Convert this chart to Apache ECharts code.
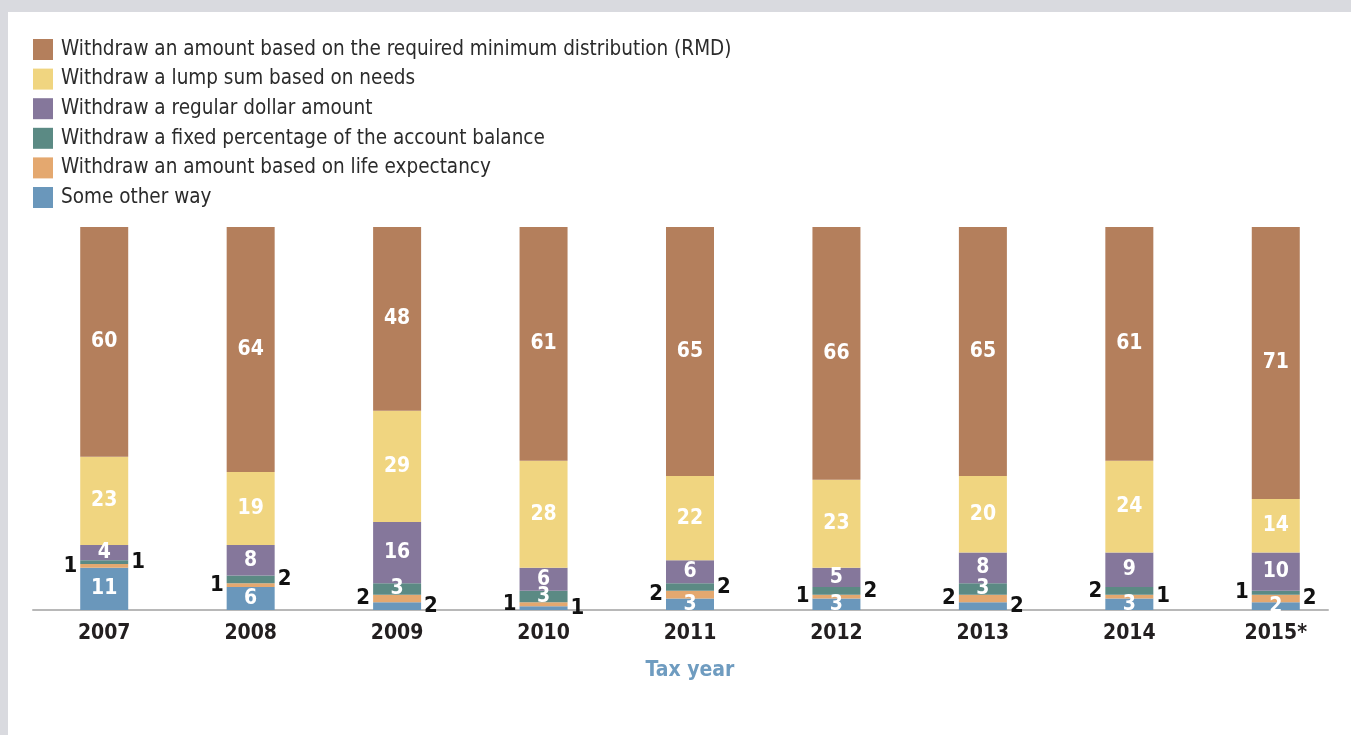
<!DOCTYPE html>
<html><head><meta charset="utf-8">
<script src="https://cdn.jsdelivr.net/npm/echarts@6/dist/echarts.min.js"></script>
<style>
html,body{margin:0;padding:0;background:#d9dadf;width:1351px;height:735px;overflow:hidden}
#panel{position:absolute;left:8px;top:12px;right:0;bottom:0;background:#fff}
#chart{position:absolute;left:0;top:0;width:1351px;height:735px}
</style></head><body>
<div id="panel"></div><div id="chart"></div>
<script>
const years = ['2007','2008','2009','2010','2011','2012','2013','2014','2015*'];
const seriesNames = [
  'Withdraw an amount based on the required minimum distribution (RMD)',
  'Withdraw a lump sum based on needs',
  'Withdraw a regular dollar amount',
  'Withdraw a fixed percentage of the account balance',
  'Withdraw an amount based on life expectancy',
  'Some other way'
];
const rmd     = [60,64,48,61,65,66,65,61,71];
const lump    = [23,19,29,28,22,23,20,24,14];
const regular = [4, 8, 16,6, 6, 5, 8, 9, 10];
const fixedPct= [1, 2, 3, 3, 2, 2, 3, 2, 1];
const lifeExp = [1, 1, 2, 1, 2, 1, 2, 1, 2];
const other   = [11,6, 2, 1, 3, 3, 2, 3, 2];

// label placement (style): i = inside, l = left of bar, r = right of bar
const placement = {
  fixed: ['r','r','i','i','r','r','i','l','l'],
  life:  ['l','l','l','l','l','l','l','r','r'],
  other: ['i','i','r','r','i','i','r','i','i']
};
const colors = ['#b47f5c','#f0d580','#85779b','#5b8a84','#e4a86f','#6a97bb'];
const FONT = "'Liberation Sans Narrow','DejaVu Sans Condensed','Roboto',sans-serif";

function makeSeries(name, data, color, sides){
  return {
    name, type:'bar', stack:'total', barWidth:48, xAxisIndex:0, yAxisIndex:0,
    itemStyle:{color},
    emphasis:{disabled:true},
    data: data.map((v,i)=>{
      const s = sides ? sides[i] : 'i';
      const label = s==='i'
        ? {show:true, position:'inside', color:'#ffffff', fontSize:21, fontWeight:'bold', fontFamily:FONT}
        : {show:true, position: s==='l' ? 'left':'right', distance:3, color:'#111111', fontSize:22, fontWeight:'bold', fontFamily:FONT};
      return {value:v, label};
    })
  };
}

const chart = echarts.init(document.getElementById('chart'), null, {renderer:'canvas'});
chart.setOption({
  animation:false,
  backgroundColor:'transparent',
  legend:{
    orient:'vertical', left:33, top:39, padding:0,
    itemWidth:20, itemHeight:21, itemGap:8.6,
    icon:'rect', selectedMode:false,
    data: seriesNames,
    textStyle:{fontSize:20.5, color:'#2b2b2b', fontFamily:FONT, padding:[0,0,0,3]}
  },
  grid:[
    {left:31, width:1318, top:227, bottom:125},
    {left:33, width:1295, top:227, bottom:125}
  ],
  xAxis:[
    {type:'category', gridIndex:0, data:years,
     axisLine:{show:false}, axisTick:{show:false},
     axisLabel:{color:'#231f20', fontSize:21, fontWeight:'bold', fontFamily:FONT, margin:13},
     name:'Tax year', nameLocation:'middle', nameGap:50,
     nameTextStyle:{color:'#6f9cc0', fontSize:21, fontWeight:'bold', fontFamily:FONT}},
    {type:'category', gridIndex:1, data:years,
     axisLine:{show:true, lineStyle:{color:'#b8b8b8', width:2}}, axisTick:{show:false}, axisLabel:{show:false}}
  ],
  yAxis:[
    {type:'value', gridIndex:0, min:0, max:100, show:false},
    {type:'value', gridIndex:1, min:0, max:100, show:false}
  ],
  series:[
    makeSeries(seriesNames[5], other, colors[5], placement.other),
    makeSeries(seriesNames[4], lifeExp, colors[4], placement.life),
    makeSeries(seriesNames[3], fixedPct, colors[3], placement.fixed),
    makeSeries(seriesNames[2], regular, colors[2]),
    makeSeries(seriesNames[1], lump, colors[1]),
    makeSeries(seriesNames[0], rmd, colors[0])
  ]
});
</script>
</body></html>
